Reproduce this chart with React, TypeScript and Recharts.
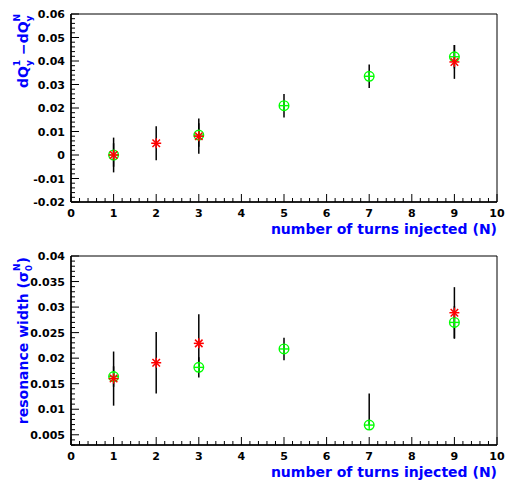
import { ErrorBar, ReferenceArea, Scatter, ScatterChart, XAxis, YAxis } from "recharts";

// tune shift vs number of injected turns (red = measured, green = model)
const topRedN = [1, 2, 3, 9];
const topRedShift = [0, 0.005, 0.008, 0.0396];
const topRedErr = [0.0074, 0.0072, 0.0075, 0.0072];
const topGreenN = [1, 3, 5, 7, 9];
const topGreenShift = [0, 0.0085, 0.021, 0.0335, 0.0418];
const topGreenErr = [0.005, 0.005, 0.005, 0.005, 0.005];

// resonance width vs number of injected turns
const botRedN = [1, 2, 3, 9];
const botRedWidth = [0.016, 0.0191, 0.0229, 0.0289];
const botRedErr = [0.0053, 0.006, 0.0057, 0.005];
const botGreenN = [1, 3, 5, 7, 9];
const botGreenWidth = [0.0164, 0.0182, 0.0218, 0.0069, 0.027];
const botGreenErrLow = [0.002, 0.002, 0.0022, 0, 0.0032];
const botGreenErrHigh = [0.002, 0.002, 0.0022, 0.0062, 0.0032];

const xDomain = [0, 10];
const topYDomain = [-0.02, 0.06];
const botYDomain = [0.003, 0.04];

const FONT = "'DejaVu Sans', Verdana, sans-serif";
const GREEN = "#00ff00";
const RED = "#ff0000";
const BLUE = "#0000ff";

function rows(n: number[], v: number[], e: (number | number[])[]) {
  return n.map((x, i) => ({ n: x, v: v[i], e: e[i] }));
}

function ticksFor(lo: number, hi: number, step: number) {
  const out: number[] = [];
  for (let k = Math.ceil(lo / step - 1e-6); k <= Math.floor(hi / step + 1e-6); k++) {
    out.push(Number((k * step).toFixed(6)));
  }
  return out;
}

function isMultiple(v: number, step: number) {
  const r = v / step;
  return Math.abs(r - Math.round(r)) < 1e-6;
}

function fmt(v: number) {
  return String(Number(v.toFixed(4)));
}

function XTick({ x, y, payload }: any) {
  const major = isMultiple(payload.value, 1);
  return (
    <g>
      <line x1={x} x2={x} y1={y} y2={y - (major ? 8 : 4)} stroke="#000" strokeWidth={1} />
      {major && (
        <text x={x} y={y + 15} textAnchor="middle" fontSize={11} fontWeight="bold" fontFamily={FONT} fill="#000">
          {fmt(payload.value)}
        </text>
      )}
    </g>
  );
}

function makeYTick(majorStep: number) {
  return ({ x, y, payload }: any) => {
    const major = isMultiple(payload.value, majorStep);
    return (
      <g>
        <line x1={x} x2={x + (major ? 8 : 4)} y1={y} y2={y} stroke="#000" strokeWidth={1} />
        {major && (
          <text x={x - 6} y={y + 4} textAnchor="end" fontSize={11} fontWeight="bold" fontFamily={FONT} fill="#000">
            {fmt(payload.value)}
          </text>
        )}
      </g>
    );
  };
}

function XTitle({ viewBox }: any) {
  return (
    <text
      x={viewBox.x + viewBox.width}
      y={viewBox.y + 32}
      textAnchor="end"
      fontSize={14}
      fontWeight="bold"
      fontFamily={FONT}
      fill={BLUE}
    >
      number of turns injected (N)
    </text>
  );
}

function TopYTitle({ viewBox }: any) {
  const x = 28;
  const y = viewBox.y;
  return (
    <text transform={`rotate(-90 ${x} ${y})`} x={x} y={y} textAnchor="end" fontSize={14} fontWeight="bold" fontFamily={FONT} fill={BLUE}>
      dQ
      <tspan fontSize={9} dy={4}>y</tspan>
      <tspan fontSize={9} dx={-6} dy={-12}>1</tspan>
      <tspan dy={8}> −dQ</tspan>
      <tspan fontSize={9} dy={4}>y</tspan>
      <tspan fontSize={9} dx={-6} dy={-12}>N</tspan>
    </text>
  );
}

function BotYTitle({ viewBox }: any) {
  const x = 28;
  const y = viewBox.y + 1;
  return (
    <text transform={`rotate(-90 ${x} ${y})`} x={x} y={y} textAnchor="end" fontSize={14} fontWeight="bold" fontFamily={FONT} fill={BLUE}>
      resonance width (σ
      <tspan fontSize={9} dy={4}>0</tspan>
      <tspan fontSize={9} dx={-6} dy={-12}>N</tspan>
      <tspan dy={8}>)</tspan>
    </text>
  );
}

function Star({ cx, cy }: any) {
  const r = 5;
  const d = r * 0.75;
  return (
    <g stroke={RED} strokeWidth={1.5}>
      <line x1={cx - r} x2={cx + r} y1={cy} y2={cy} />
      <line x1={cx} x2={cx} y1={cy - r} y2={cy + r} />
      <line x1={cx - d} x2={cx + d} y1={cy - d} y2={cy + d} />
      <line x1={cx - d} x2={cx + d} y1={cy + d} y2={cy - d} />
    </g>
  );
}

function CirclePlus({ cx, cy }: any) {
  const r = 4.8;
  return (
    <g stroke={GREEN} strokeWidth={1.4} fill="none">
      <circle cx={cx} cy={cy} r={r} />
      <line x1={cx - r} x2={cx + r} y1={cy} y2={cy} />
      <line x1={cx} x2={cx} y1={cy - r} y2={cy + r} />
    </g>
  );
}

interface PanelProps {
  height: number;
  top: number;
  xHeight: number;
  yDomain: number[];
  yMinorStep: number;
  yMajorStep: number;
  red: { n: number; v: number; e: any }[];
  green: { n: number; v: number; e: any }[];
  yTitle: (p: any) => any;
}

function Panel({ height, top, xHeight, yDomain, yMinorStep, yMajorStep, red, green, yTitle }: PanelProps) {
  return (
    <ScatterChart width={505} height={height} margin={{ top, right: 8, bottom: 0, left: 0 }}>
      <XAxis
        type="number"
        dataKey="n"
        domain={xDomain}
        ticks={ticksFor(xDomain[0], xDomain[1], 0.2)}
        interval={0}
        height={xHeight}
        tickSize={0}
        tickMargin={0}
        tickLine={false}
        axisLine={{ stroke: "#000", strokeWidth: 1.5 }}
        tick={XTick}
        label={XTitle}
      />
      <YAxis
        type="number"
        dataKey="v"
        domain={yDomain}
        ticks={ticksFor(yDomain[0], yDomain[1], yMinorStep)}
        interval={0}
        width={71}
        tickSize={0}
        tickMargin={0}
        tickLine={false}
        axisLine={{ stroke: "#000", strokeWidth: 1.5 }}
        tick={makeYTick(yMajorStep)}
        label={yTitle}
      />
      <ReferenceArea x1={xDomain[0]} x2={xDomain[1]} y1={yDomain[0]} y2={yDomain[1]} fill="none" stroke="#000" strokeWidth={1} />
      <Scatter data={green} shape={CirclePlus} isAnimationActive={false}>
        <ErrorBar dataKey="e" direction="y" width={0} stroke="#000" strokeWidth={1.5} isAnimationActive={false} />
      </Scatter>
      <Scatter data={red} shape={Star} isAnimationActive={false}>
        <ErrorBar dataKey="e" direction="y" width={0} stroke="#000" strokeWidth={1.5} isAnimationActive={false} />
      </Scatter>
    </ScatterChart>
  );
}

export default function App() {
  const topRed = rows(topRedN, topRedShift, topRedErr);
  const topGreen = rows(topGreenN, topGreenShift, topGreenErr);
  const botRed = rows(botRedN, botRedWidth, botRedErr);
  const botGreen = rows(
    botGreenN,
    botGreenWidth,
    botGreenErrLow.map((lo, i) => [lo, botGreenErrHigh[i]])
  );

  return (
    <div style={{ position: "absolute", left: 0, top: 0, width: 505, height: 482, background: "#fff" }}>
      <Panel
        height={240}
        top={14}
        xHeight={38}
        yDomain={topYDomain}
        yMinorStep={0.002}
        yMajorStep={0.01}
        red={topRed}
        green={topGreen}
        yTitle={TopYTitle}
      />
      <Panel
        height={242}
        top={16}
        xHeight={37}
        yDomain={botYDomain}
        yMinorStep={0.001}
        yMajorStep={0.005}
        red={botRed}
        green={botGreen}
        yTitle={BotYTitle}
      />
    </div>
  );
}
